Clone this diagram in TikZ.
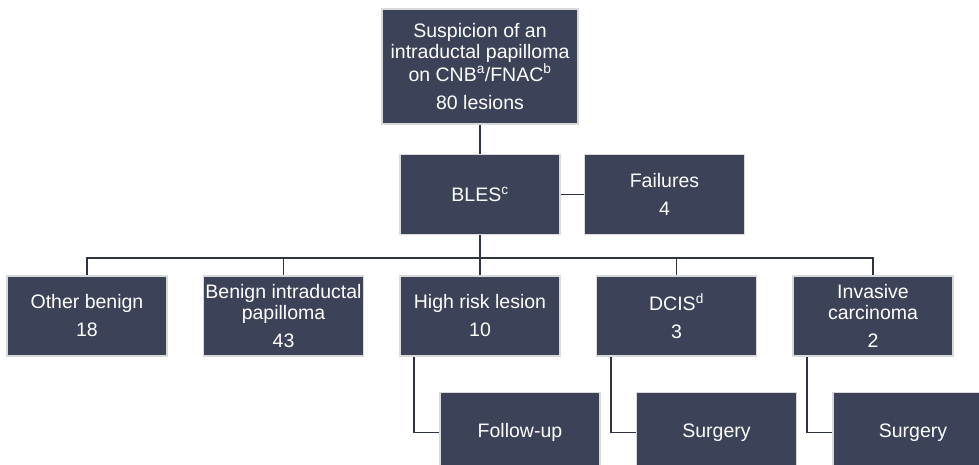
\documentclass[tikz,border=0pt]{standalone}
\usepackage{fontspec}
\setmainfont{Liberation Sans}
\usepackage{tikz}
\usepackage{xcolor}
\usetikzlibrary{positioning,calc}
\definecolor{Slate}{HTML}{3C4257}
\definecolor{Rim}{HTML}{D9D9D9}
\definecolor{Ink}{HTML}{2E3342}
\tikzset{
    every node/.style={font=\fontsize{19.5}{21}\selectfont},
    flowbox/.style={
        draw=Rim, fill=Slate, line width=1.5pt,
        minimum width=160pt, minimum height=80pt,
        align=center, sharp corners, inner sep=1pt,
        text=white
    },
    flowlink/.style={
        -, line width=1.8pt, color=Ink
    },
}

\begin{document}
\begin{tikzpicture}[x=1pt, y=-1pt, node distance=40pt and 35pt]
    \useasboundingbox (0,0) rectangle (979,465);
    % Nodes
    \node[flowbox, minimum width=196pt, minimum height=115pt] (suspicion) at (480,66.5)
        {Suspicion of an\\intraductal papilloma\\on CNB\textsuperscript{a}/FNAC\textsuperscript{b}\\[7pt]80 lesions};
    \node[flowbox, below=29pt of suspicion] (bles) {BLES\textsuperscript{c}};
    \node[flowbox, right=23pt of bles] (failures) {Failures\\[7pt]4};
    \node[flowbox, below=of bles] (highrisk) {High risk lesion\\[7pt]10};
    \node[flowbox, left=of highrisk] (benign) {Benign intraductal\\papilloma\\[7pt]43};
    \node[flowbox, left=of benign] (other) {Other benign\\[7pt]18};
    \node[flowbox, right=of highrisk] (dcis) {DCIS\textsuperscript{d}\\[7pt]3};
    \node[flowbox, right=of dcis] (invasive) {Invasive\\carcinoma\\[7pt]2};
    \node[flowbox, below=35pt of highrisk, xshift=40pt] (followup) {Follow-up};
    \node[flowbox, below=35pt of dcis, xshift=40pt] (surgeryA) {Surgery};
    \node[flowbox, below=35pt of invasive, xshift=40pt] (surgeryB) {Surgery};

    % Links
    \coordinate (bus) at ([yshift=-23pt]bles.south);
    \draw[flowlink] (suspicion) -- (bles);
    \draw[flowlink] (bles) -- (failures);
    \draw[flowlink] (bles.south) -- (bus);
    \draw[flowlink] (other.north) |- (bus) -| (invasive.north);
    \foreach \n in {benign,highrisk,dcis}
        \draw[flowlink] (\n.north) -- (\n.north |- bus);
    \draw[flowlink] ([xshift=15pt]highrisk.south west) |- (followup.west);
    \draw[flowlink] ([xshift=15pt]dcis.south west) |- (surgeryA.west);
    \draw[flowlink] ([xshift=15pt]invasive.south west) |- (surgeryB.west);
\end{tikzpicture}
\end{document}
